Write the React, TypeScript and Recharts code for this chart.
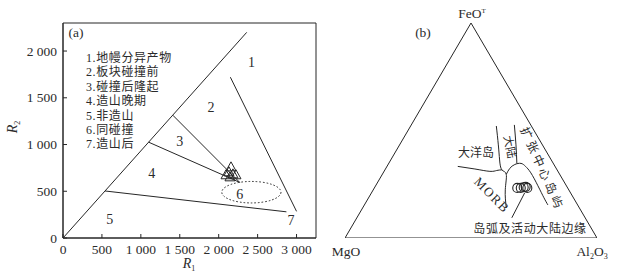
import React from 'react';
import { ComposedChart, ScatterChart, Scatter, XAxis, YAxis, ReferenceArea } from 'recharts';

const SERIF = '"Liberation Serif", "Times New Roman", "Noto Sans CJK SC", serif';
const INK = '#262626';
const TEXT = '#2b2b2b';

// ---- (a) R1-R2 diagram ----
const R1_TICKS = [0, 500, 1000, 1500, 2000, 2500, 3000];
const R1_LABELS = ['0', '500', '1 000', '1 500', '2 000', '2 500', '3 000'];
const R2_TICKS = [0, 500, 1000, 1500, 2000];
const R2_LABELS = ['0', '500', '1 000', '1 500', '2 000'];

const DIAGONAL = [{ x: 0, y: 0 }, { x: 2360, y: 2200 }];
const BOUND_12 = [{ x: 2150, y: 1720 }, { x: 3000, y: 285 }];
const BOUND_23 = [{ x: 1410, y: 1314 }, { x: 2270, y: 595 }];
const BOUND_34 = [{ x: 1100, y: 1025 }, { x: 2270, y: 595 }];
const BOUND_45 = [{ x: 540, y: 503 }, { x: 2870, y: 280 }];
const FIELD_6 = { x1: 2040, x2: 2800, y1: 375, y2: 605 };

const FIELD_NUMS = [
  { x: 2420, y: 1880, n: '1' },
  { x: 1900, y: 1400, n: '2' },
  { x: 1500, y: 1030, n: '3' },
  { x: 1140, y: 690, n: '4' },
  { x: 600, y: 200, n: '5' },
  { x: 2270, y: 470, n: '6' },
  { x: 2930, y: 190, n: '7' },
];

const SAMPLES_R = [
  { x: 2158, y: 756 },
  { x: 2132, y: 703 },
  { x: 2094, y: 671 },
  { x: 2183, y: 681 },
  { x: 2222, y: 671 },
  { x: 2145, y: 649 },
];

const LEGEND_A = ['1.地幔分异产物', '2.板块碰撞前', '3.碰撞后隆起', '4.造山晚期', '5.非造山', '6.同碰撞', '7.造山后'];

// ---- (b) FeOT-MgO-Al2O3, rows are [FeOT, MgO, Al2O3] % ----
const TRIANGLE: number[][] = [[0, 100, 0], [100, 0, 0], [0, 0, 100], [0, 100, 0]];
const OCEAN_ISLAND_LINE = [[33.3, 38.6, 28.1], [32.1, 32.4, 35.5], [31.0, 27.0, 42.0], [31.4, 24.1, 44.5], [31.7, 21.9, 46.4]];
const CONTINENT_LEFT = [[52.1, 13.9, 34.0], [43.3, 17.5, 39.2], [36.3, 20.5, 43.2], [31.7, 21.9, 46.4], [29.6, 21.2, 49.2], [22.4, 25.2, 52.4], [14.1, 29.0, 57.0]];
const CONTINENT_RIGHT = [[52.6, 6.5, 40.9], [43.3, 10.5, 46.2], [34.6, 14.5, 50.9]];
const ARC_FIELD = [[29.6, 21.2, 49.2], [32.4, 18.4, 49.2], [34.2, 15.5, 50.3], [34.7, 12.8, 52.5], [33.3, 11.7, 55.0], [30.3, 11.1, 58.6], [24.3, 11.3, 64.4], [18.7, 11.7, 69.6], [15.4, 11.8, 72.8]];
const ARC_POINTER = [[21.0, 18.2, 60.8], [9.4, 29.1, 61.5]];
const SAMPLES_T = [[23.3, 20.0, 56.7], [23.3, 18.6, 58.1], [23.6, 17.3, 59.1], [23.8, 16.4, 59.8], [23.3, 16.0, 60.7]];

const H = Math.sqrt(3) / 2;
const toXY = (rows: number[][]) =>
  rows.map(([fe, mg, al]) => {
    const s = fe + mg + al;
    return { x: (al + fe / 2) / s, y: (fe / s) * H };
  });

const noDot = () => <g />;

const XTick = ({ x, y, payload }: any) => {
  const i = R1_TICKS.indexOf(payload.value);
  return (
    <g>
      <line x1={x} x2={x} y1={y} y2={y - 4} stroke={INK} />
      <text x={x} y={y + 11} textAnchor="middle" dominantBaseline="central" fontSize={13.5} fontFamily={SERIF} fill={TEXT}>
        {R1_LABELS[i]}
      </text>
    </g>
  );
};

const YTick = ({ x, y, payload }: any) => {
  const i = R2_TICKS.indexOf(payload.value);
  return (
    <g>
      <line x1={x} x2={x + 4} y1={y} y2={y} stroke={INK} />
      <text x={x - 6} y={y} textAnchor="end" dominantBaseline="central" fontSize={13.5} fontFamily={SERIF} fill={TEXT}>
        {R2_LABELS[i]}
      </text>
    </g>
  );
};

const HollowTriangle = ({ cx, cy }: any) => (
  <path d={`M${cx},${cy - 5.5} L${cx + 5},${cy + 3.5} L${cx - 5},${cy + 3.5} Z`} fill="none" stroke={INK} strokeWidth={1} />
);

const HollowCircle = ({ cx, cy }: any) => <circle cx={cx} cy={cy} r={4.5} fill="none" stroke={INK} strokeWidth={1.1} />;

const FieldNum = (props: any) => (
  <text x={props.cx} y={props.cy} textAnchor="middle" dominantBaseline="central" fontSize={14} fontFamily={SERIF} fill={TEXT}>
    {props.payload?.n ?? props.n}
  </text>
);

const DottedEllipse = ({ x, y, width, height }: any) => (
  <ellipse cx={x + width / 2} cy={y + height / 2} rx={width / 2} ry={height / 2} fill="none" stroke={INK} strokeWidth={1} strokeDasharray="1.6 2" />
);

const Label = ({ x, y, children, size = 12, rotate = 0, spacing = 0 }: any) => (
  <div
    style={{
      position: 'absolute',
      left: x,
      top: y,
      transform: `translate(-50%, -50%) rotate(${rotate}deg)`,
      fontSize: size,
      fontFamily: SERIF,
      lineHeight: 1,
      whiteSpace: 'nowrap',
      letterSpacing: spacing,
      color: TEXT,
    }}
  >
    {children}
  </div>
);

function PanelA() {
  const seg = (data: any[]) => (
    <Scatter data={data} line={{ stroke: INK, strokeWidth: 1 }} shape={noDot} isAnimationActive={false} />
  );
  return (
    <ComposedChart width={330} height={277} margin={{ top: 23, right: 14, bottom: 9, left: 0 }}>
      <XAxis
        type="number"
        dataKey="x"
        domain={[0, 3250]}
        ticks={R1_TICKS}
        interval={0}
        tickSize={0}
        tickMargin={0}
        height={30}
        tick={<XTick />}
        tickLine={false}
        axisLine={{ stroke: INK }}
        allowDataOverflow
      />
      <YAxis
        type="number"
        dataKey="y"
        domain={[0, 2300]}
        ticks={R2_TICKS}
        interval={0}
        tickSize={0}
        tickMargin={0}
        width={63}
        tick={<YTick />}
        tickLine={false}
        axisLine={{ stroke: INK }}
        allowDataOverflow
      />
      <ReferenceArea x1={0} x2={3250} y1={0} y2={2300} fill="none" stroke={INK} strokeWidth={1} fillOpacity={0} />
      <ReferenceArea {...FIELD_6} shape={<DottedEllipse />} />
      {seg(DIAGONAL)}
      {seg(BOUND_12)}
      {seg(BOUND_23)}
      {seg(BOUND_34)}
      {seg(BOUND_45)}
      <Scatter data={SAMPLES_R} shape={<HollowTriangle />} isAnimationActive={false} />
      <Scatter data={FIELD_NUMS} shape={<FieldNum />} isAnimationActive={false} />
    </ComposedChart>
  );
}

function PanelB() {
  const curve = (rows: number[][], joint: any = 'natural') => (
    <Scatter
      data={toXY(rows)}
      line={{ stroke: INK, strokeWidth: 1 }}
      lineJointType={joint}
      shape={noDot}
      isAnimationActive={false}
    />
  );
  return (
    <ScatterChart width={288} height={277} margin={{ top: 23, right: 21, bottom: 39, left: 15 }}>
      <XAxis type="number" dataKey="x" domain={[0, 1]} hide allowDataOverflow />
      <YAxis type="number" dataKey="y" domain={[0, H]} hide allowDataOverflow />
      {curve(TRIANGLE, 'linear')}
      {curve(OCEAN_ISLAND_LINE)}
      {curve(CONTINENT_LEFT)}
      {curve(CONTINENT_RIGHT)}
      {curve(ARC_FIELD)}
      {curve(ARC_POINTER, 'linear')}
      <Scatter data={toXY(SAMPLES_T)} shape={<HollowCircle />} isAnimationActive={false} />
    </ScatterChart>
  );
}

export default function App() {
  return (
    <div style={{ position: 'absolute', left: 0, top: 0, width: 618, height: 277, background: '#fff', overflow: 'hidden' }}>
      <div style={{ position: 'absolute', left: 0, top: 0 }}>
        <PanelA />
      </div>
      <div style={{ position: 'absolute', left: 330, top: 0 }}>
        <PanelB />
      </div>
      <div style={{ position: 'absolute', left: 0, top: 0, width: 618, height: 277, pointerEvents: 'none' }}>
        <Label x={76} y={33} size={13.5}>(a)</Label>
        {LEGEND_A.map((t, i) => (
          <div
            key={t}
            style={{
              position: 'absolute',
              left: 86,
              top: 58 + i * 14.4,
              transform: 'translateY(-50%)',
              fontSize: 12,
              fontFamily: SERIF,
              lineHeight: 1,
              whiteSpace: 'nowrap',
              letterSpacing: 0.6,
              color: TEXT,
            }}
          >
            {t}
          </div>
        ))}
        <Label x={189} y={265} size={14}>
          <i>R</i>
          <sub style={{ fontSize: 8 }}>1</sub>
        </Label>
        <Label x={14} y={127} size={14} rotate={-90}>
          <i>R</i>
          <sub style={{ fontSize: 8 }}>2</sub>
        </Label>

        <Label x={423} y={33} size={13.5}>(b)</Label>
        <Label x={472} y={14} size={13.5}>
          FeO<sup style={{ fontSize: 7 }}>T</sup>
        </Label>
        <Label x={346} y={252} size={13.5}>MgO</Label>
        <Label x={592} y={253} size={13.5}>
          Al<sub style={{ fontSize: 8 }}>2</sub>O<sub style={{ fontSize: 8 }}>3</sub>
        </Label>
        <Label x={476} y={153} size={12}>大洋岛</Label>
        <Label x={508.5} y={147} size={11.5} rotate={78}>大陆</Label>
        <Label x={542} y={169} size={12} rotate={66} spacing={3}>扩张中心岛屿</Label>
        <Label x={492} y={195} size={13} rotate={45} spacing={1.5}>MORB</Label>
        <Label x={530} y={228.5} size={12} spacing={0.6}>岛弧及活动大陆边缘</Label>
      </div>
    </div>
  );
}
